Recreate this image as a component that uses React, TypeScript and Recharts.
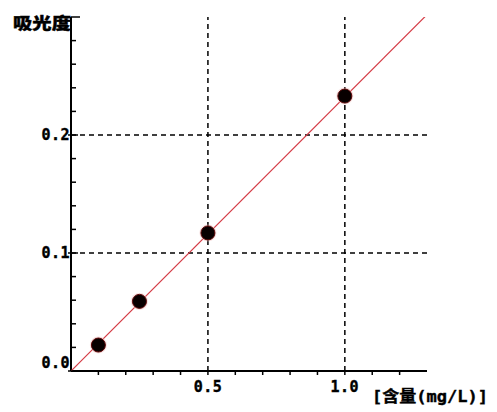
import React from 'react';
import { ScatterChart, Scatter, XAxis, YAxis, ReferenceLine, Label } from 'recharts';

const samplePoints = [
  { x: 0.1, y: 0.022 },
  { x: 0.25, y: 0.059 },
  { x: 0.5, y: 0.117 },
  { x: 1.0, y: 0.233 },
];
const fitLine = [
  { x: 0, y: 0 },
  { x: 1.3, y: 0.302 },
];
const xTicks = [0.1, 0.2, 0.3, 0.4, 0.5, 0.6, 0.7, 0.8, 0.9, 1.0, 1.1, 1.2];
const yTicks = [0, 0.02, 0.04, 0.06, 0.08, 0.1, 0.12, 0.14, 0.16, 0.18, 0.2, 0.22, 0.24, 0.26, 0.28, 0.3];
const xLabeled = [0.5, 1.0];
const yLabeled = [0, 0.1, 0.2];
const xGrid = [0.5, 1.0];
const yGrid = [0.1, 0.2];
const yTitle = '吸光度';
const xTitle = '[含量(mg/L)]';

const tickFont = {
  fontFamily: "'DejaVu Sans Mono', 'Liberation Mono', monospace",
  fontWeight: 700,
  fontSize: 15,
  letterSpacing: 0.5,
  fill: '#000',
  stroke: '#000',
  strokeWidth: 0.4,
};

const near = (a: number, b: number) => Math.abs(a - b) < 1e-6;

const YTick = (props: any) => {
  const { x, y, payload } = props;
  const v = payload.value as number;
  const labeled = yLabeled.some((t) => near(t, v));
  const top = near(v, 0.3);
  return (
    <g>
      <line x1={labeled ? x - 3 : x} x2={x + (top ? 9 : labeled ? 7 : 5)} y1={y} y2={y} stroke="#000" strokeWidth={1.5} />
      {labeled && (
        <text x={x - 1} y={near(v, 0) ? y - 3 : y + 5} textAnchor="end" {...tickFont}>
          {v.toFixed(1)}
        </text>
      )}
    </g>
  );
};

const XTick = (props: any) => {
  const { x, y, payload } = props;
  const v = payload.value as number;
  const labeled = xLabeled.some((t) => near(t, v));
  return (
    <g>
      <line x1={x} x2={x} y1={y} y2={y + 4} stroke="#000" strokeWidth={1.5} />
      {labeled && (
        <text x={x} y={y + 21} textAnchor="middle" {...tickFont}>
          {v.toFixed(1)}
        </text>
      )}
    </g>
  );
};

const Dot = (props: any) => {
  const { cx, cy } = props;
  if (cx == null || cy == null) return null;
  return (
    <g>
      <circle cx={cx} cy={cy} r={8.5} fill="#f0c0c0" opacity={0.5} />
      <circle cx={cx} cy={cy} r={7} fill="#080000" stroke="#5a0606" strokeWidth={1} />
    </g>
  );
};

const NoShape = () => null;

export default function App() {
  return (
    <div style={{ position: 'absolute', left: 0, top: 0, width: 497, height: 412, background: '#fff' }}>
      <ScatterChart width={497} height={412} margin={{ top: 17, right: 70, left: 0, bottom: 0 }}>
        <XAxis
          type="number"
          dataKey="x"
          domain={[0, 1.3]}
          ticks={xTicks}
          allowDataOverflow
          height={41}
          tickSize={0}
          tickMargin={0}
          tickLine={false}
          tick={<XTick />}
          axisLine={{ stroke: '#000', strokeWidth: 2 }}
          interval={0}
        >
          <Label
            content={(p: any) => {
              const vb = p.viewBox || { x: 71, y: 371, width: 356 };
              return (
                <text
                  x={vb.x + vb.width + 61}
                  y={vb.y + 31}
                  textAnchor="end"
                  textLength={116}
                  lengthAdjust="spacingAndGlyphs"
                  style={{ fontFamily: "'DejaVu Sans Mono', 'Noto Sans CJK SC', monospace", fontWeight: 700, fontSize: 16 }}
                  fill="#000"
                  stroke="#000"
                  strokeWidth={0.4}
                >
                  {xTitle}
                </text>
              );
            }}
          />
        </XAxis>
        <YAxis
          type="number"
          dataKey="y"
          domain={[0, 0.3]}
          ticks={yTicks}
          allowDataOverflow
          width={71}
          tickSize={0}
          tickMargin={0}
          tickLine={false}
          tick={<YTick />}
          axisLine={{ stroke: '#000', strokeWidth: 2 }}
          interval={0}
        >
          <Label
            content={(p: any) => {
              const vb = p.viewBox || { x: 0, y: 17 };
              return (
                <text
                  x={13}
                  y={vb.y + 12}
                  textLength={58}
                  lengthAdjust="spacingAndGlyphs"
                  style={{ fontFamily: "'Noto Sans CJK SC', sans-serif", fontWeight: 900, fontSize: 16 }}
                  fill="#000"
                  stroke="#000"
                  strokeWidth={0.4}
                >
                  {yTitle}
                </text>
              );
            }}
          />
        </YAxis>
        {yGrid.map((v) => (
          <ReferenceLine key={'h' + v} y={v} stroke="#000" strokeWidth={1.5} strokeDasharray="5 4" />
        ))}
        {xGrid.map((v) => (
          <ReferenceLine key={'v' + v} x={v} stroke="#000" strokeWidth={1.5} strokeDasharray="5 4" />
        ))}
        <Scatter
          data={fitLine}
          line={{ stroke: '#d43a44', strokeWidth: 1.2 }}
          lineType="joint"
          shape={<NoShape />}
          isAnimationActive={false}
        />
        <Scatter data={samplePoints} shape={<Dot />} isAnimationActive={false} />
      </ScatterChart>
    </div>
  );
}
